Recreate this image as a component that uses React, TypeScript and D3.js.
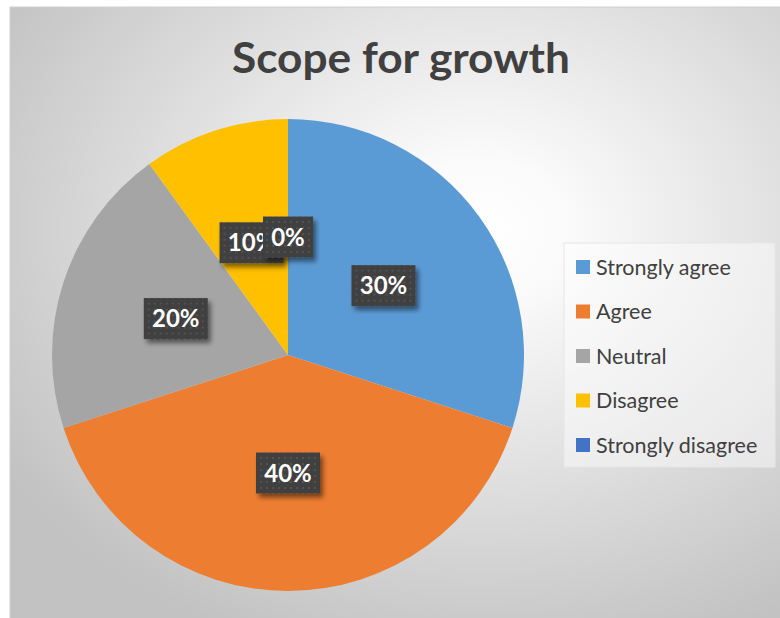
import React from "react";
import * as d3 from "d3";

const categories = ["Strongly agree", "Agree", "Neutral", "Disagree", "Strongly disagree"];
const values = [30, 40, 20, 10, 0];
const labels = ["30%", "40%", "20%", "10%", "0%"];
const colors = ["#5B9BD5", "#ED7D31", "#A5A5A5", "#FFC000", "#4472C4"];
const title = "Scope for growth";

const W = 780;
const H = 618;

export default function App() {
  const cx = 288;
  const cy = 355;
  const r = 236;
  const pie = d3.pie<number>().sort(null).value((d) => d)(values);
  const arc = d3.arc<d3.PieArcDatum<number>>().innerRadius(0).outerRadius(r);
  const labelArc = d3.arc<d3.PieArcDatum<number>>().innerRadius(r * 0.5).outerRadius(r * 0.5);
  const legendY = d3.scalePoint<string>().domain(categories).range([267, 445]);

  return (
    <svg width={W} height={H} style={{ position: "absolute", left: 0, top: 0 }} fontFamily="Lato, 'Open Sans', sans-serif">
      <defs>
        <radialGradient id="bg" cx="0.6" cy="0.36" r="0.72">
          <stop offset="0" stopColor="#ffffff" />
          <stop offset="0.15" stopColor="#fbfbfb" />
          <stop offset="1" stopColor="#c2c2c2" />
        </radialGradient>
        <pattern id="dots" width="6" height="6" patternUnits="userSpaceOnUse">
          <rect width="6" height="6" fill="#404040" />
          <rect x="2" y="2" width="2" height="2" fill="#525252" />
        </pattern>
        <filter id="sh" x="-30%" y="-30%" width="170%" height="170%">
          <feGaussianBlur in="SourceAlpha" stdDeviation="2.5" />
          <feOffset dx="3" dy="4" result="b" />
          <feComponentTransfer>
            <feFuncA type="linear" slope="0.5" />
          </feComponentTransfer>
          <feMerge>
            <feMergeNode />
            <feMergeNode in="SourceGraphic" />
          </feMerge>
        </filter>
      </defs>
      <rect x={10} y={7} width={W} height={H} fill="url(#bg)" stroke="#cfcfcf" strokeWidth={1} />
      <text x={401} y={73} textAnchor="middle" fontSize={42} fontWeight="bold" fill="#404040" textLength={338} lengthAdjust="spacingAndGlyphs">
        {title}
      </text>
      <g transform={`translate(${cx},${cy})`}>
        {pie.map((p, i) => (
          <path key={i} d={arc(p) || ""} fill={colors[i]} />
        ))}
        {pie.map((p, i) => {
          const [lx, ly] = labelArc.centroid(p);
          const bw = 14 * labels[i].length + 22;
          const bh = 41;
          return (
            <g key={"l" + i} transform={`translate(${lx},${ly})`}>
              <rect x={-bw / 2} y={-bh / 2} width={bw} height={bh} fill="url(#dots)" filter="url(#sh)" />
              <text x={0} y={8.5} textAnchor="middle" fontSize={24} fontWeight="bold" fill="#ffffff">
                {labels[i]}
              </text>
            </g>
          );
        })}
      </g>
      <rect x={564} y={243} width={211} height={224} fill="#ffffff" fillOpacity={0.45} stroke="#e6e6e6" strokeWidth={1} />
      {categories.map((c, i) => {
        const y = legendY(c) as number;
        return (
          <g key={c}>
            <rect x={576} y={y - 7} width={14} height={14} fill={colors[i]} />
            <text x={596} y={y + 7.5} fontSize={21.5} fill="#404040">
              {c}
            </text>
          </g>
        );
      })}
    </svg>
  );
}
